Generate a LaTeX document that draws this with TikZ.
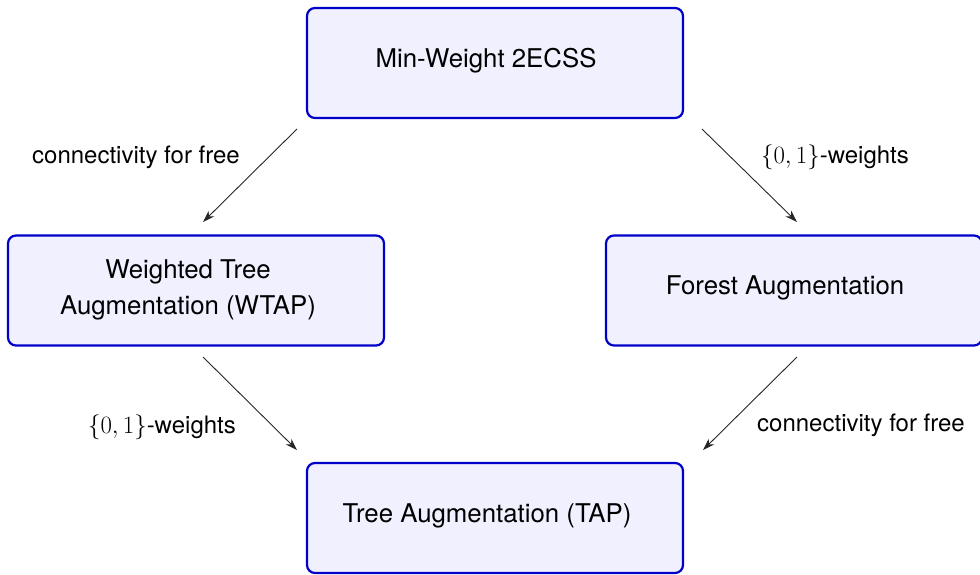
\documentclass[tikz,border=0pt]{standalone}
\usepackage[no-math]{fontspec}
\setmainfont{TeX Gyre Heros}
\usetikzlibrary{arrows.meta}
\definecolor{boxblue}{RGB}{0,0,200}
\definecolor{boxfill}{RGB}{240,240,255}
\tikzset{
  probbox/.style={draw=boxblue, fill=boxfill, line width=2.2pt, rounded corners=8pt,
    minimum width=376pt, minimum height=110pt, inner sep=0pt},
  boxtext/.style={font=\fontsize{25.8}{36}\selectfont, align=center, inner sep=0pt},
  lbl/.style={font=\fontsize{24}{30}\selectfont, inner sep=0pt},
  redarrow/.style={line width=0.9pt, draw=black!85, -{Stealth[length=12pt,width=8pt]}}
}
\begin{document}
\begin{tikzpicture}[x=1pt,y=-1pt]
\useasboundingbox (0,0) rectangle (980,574);
\begin{scope}
\clip (0,0) rectangle (980,574);
\node[probbox] (top) at (495,63) {};
\node[probbox] (left) at (196,290.5) {};
\node[probbox] (right) at (794,290.5) {};
\node[probbox] (bot) at (495,518) {};
\end{scope}
\node[boxtext] (toptext) at (486,61) {Min-Weight 2ECSS};
\node[boxtext] (lefttext) at (188,290) {Weighted Tree\\Augmentation (WTAP)};
\node[boxtext] (righttext) at (785,288) {Forest Augmentation};
\node[boxtext] (bottext) at (487,516) {Tree Augmentation (TAP)};

\coordinate (a1) at (297,129);
\coordinate (a2) at (203,222);
\coordinate (b1) at (702,129);
\coordinate (b2) at (797,222);
\coordinate (c1) at (203,357);
\coordinate (c2) at (297,450);
\coordinate (d1) at (797,357);
\coordinate (d2) at (703,450);
\draw[redarrow] (a1) -- (a2);
\draw[redarrow] (b1) -- (b2);
\draw[redarrow] (c1) -- (c2);
\draw[redarrow] (d1) -- (d2);

\node[lbl] (l1) at (136,157) {connectivity for free};
\node[lbl] (l2) at (835,157) {$\{0,1\}$-weights};
\node[lbl] (l3) at (162,427) {$\{0,1\}$-weights};
\node[lbl] (l4) at (861,425) {connectivity for free};
\end{tikzpicture}
\end{document}
